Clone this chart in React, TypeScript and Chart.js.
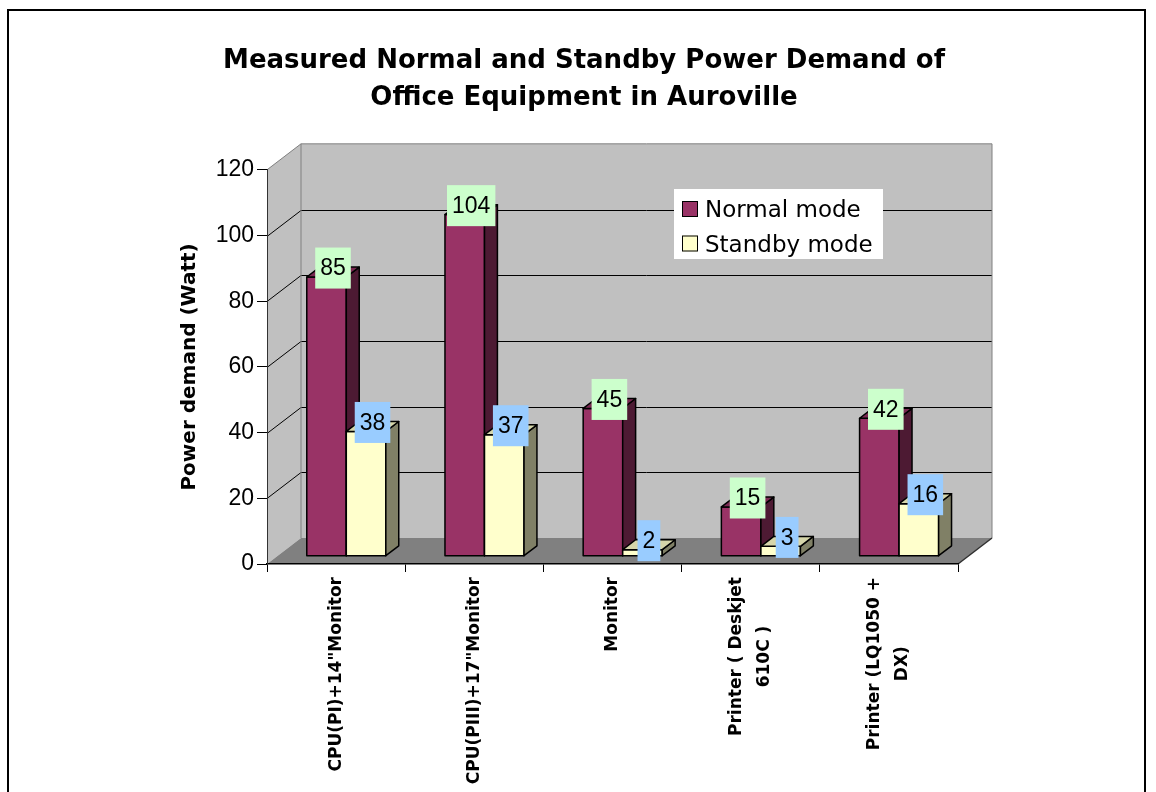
import React, { useEffect, useRef } from "react";
import { Chart, registerables } from "chart.js";

Chart.register(...registerables);

// ---- data ----
const categories: string[][] = [
  ['CPU(PI)+14"Monitor'],
  ['CPU(PIII)+17"Monitor'],
  ["Monitor"],
  ["Printer ( Deskjet", "610C )"],
  ["Printer (LQ1050 +", "DX)"],
];
const normalMode = [85, 104, 45, 15, 42];
const standbyMode = [38, 37, 2, 3, 16];
const seriesNames = ["Normal mode", "Standby mode"];
const yMin = 0;
const yMax = 120;
const yStep = 20;
const titleLines = ["Measured Normal and Standby Power Demand of", "Office Equipment in Auroville"];
const yAxisTitle = "Power demand (Watt)";

// ---- styles ----
const FRONT = ["#993366", "#ffffcc"];
const SIDE = ["#4d1a33", "#808066"];
const TOP = ["#7a2952", "#d6d6aa"];
const LABEL_BG = ["#ccffcc", "#99ccff"];
const DX = 34; // depth offset of the walls
const DY = -26;
const F0 = 0.3; // depth of bar front face
const FD = 0.38; // bar depth

function poly(ctx: CanvasRenderingContext2D, pts: number[][]) {
  ctx.beginPath();
  ctx.moveTo(pts[0][0], pts[0][1]);
  for (let i = 1; i < pts.length; i++) ctx.lineTo(pts[i][0], pts[i][1]);
  ctx.closePath();
}

const bars3d = {
  id: "bars3d",
  beforeDraw(chart: any) {
    const { ctx, chartArea: a } = chart;
    const y = chart.scales.y;
    const L = a.left, R = a.right, T = a.top, B = a.bottom;
    ctx.save();
    // outer frame
    ctx.strokeStyle = "#000";
    ctx.lineWidth = 2;
    ctx.beginPath();
    ctx.moveTo(8, 900);
    ctx.lineTo(8, 10);
    ctx.lineTo(1145, 10);
    ctx.lineTo(1145, 900);
    ctx.stroke();
    // walls
    ctx.fillStyle = "#c0c0c0";
    poly(ctx, [[L, T], [L + DX, T + DY], [L + DX, B + DY], [L, B]]);
    ctx.fill();
    ctx.fillRect(L + DX, T + DY, R - L, B - T);
    // floor
    ctx.fillStyle = "#808080";
    poly(ctx, [[L, B], [R, B], [R + DX, B + DY], [L + DX, B + DY]]);
    ctx.fill();
    // gridlines
    ctx.strokeStyle = "#000";
    ctx.lineWidth = 1;
    for (const t of y.ticks) {
      if (t.value <= yMin || t.value >= yMax) continue;
      const py = Math.round(y.getPixelForValue(t.value)) + 0.5;
      ctx.beginPath();
      ctx.moveTo(L, py);
      ctx.lineTo(L + DX, py + DY);
      ctx.lineTo(R + DX, py + DY);
      ctx.stroke();
    }
    // wall edges
    ctx.strokeStyle = "#808080";
    ctx.beginPath();
    ctx.moveTo(L, T);
    ctx.lineTo(L + DX, T + DY);
    ctx.lineTo(R + DX, T + DY);
    ctx.lineTo(R + DX, B + DY);
    ctx.moveTo(L + DX, T + DY);
    ctx.lineTo(L + DX, B + DY);
    ctx.stroke();
    ctx.strokeStyle = "#303030";
    ctx.lineWidth = 1.5;
    ctx.beginPath();
    ctx.moveTo(R, B);
    ctx.lineTo(R + DX, B + DY);
    ctx.stroke();
    ctx.restore();
  },
  beforeDatasetsDraw(chart: any) {
    chart.ctx.save();
    chart.ctx.translate(DX * F0, DY * F0);
  },
  afterDatasetsDraw(chart: any) {
    const { ctx } = chart;
    const metas = chart.data.datasets.map((_: any, i: number) => chart.getDatasetMeta(i));
    const n = chart.data.labels.length;
    const ddx = DX * FD, ddy = DY * FD;
    const boxes: any[] = [];
    for (let i = 0; i < n; i++) {
      for (let d = 0; d < metas.length; d++) {
        const el = metas[d].data[i];
        if (!el) continue;
        const { x, y, base, width } = el.getProps(["x", "y", "base", "width"], true);
        const l = x - width / 2, r = x + width / 2;
        const t = Math.min(y, base), b = Math.max(y, base);
        ctx.lineWidth = 1.5;
        ctx.strokeStyle = "#000";
        ctx.lineJoin = "round";
        ctx.fillStyle = FRONT[d];
        ctx.fillRect(l, t, r - l, b - t);
        ctx.strokeRect(l, t, r - l, b - t);
        ctx.fillStyle = SIDE[d];
        poly(ctx, [[r, t], [r + ddx, t + ddy], [r + ddx, b + ddy], [r, b]]);
        ctx.fill();
        ctx.stroke();
        ctx.fillStyle = TOP[d];
        poly(ctx, [[l, t], [l + ddx, t + ddy], [r + ddx, t + ddy], [r, t]]);
        ctx.fill();
        ctx.stroke();
        boxes.push({
          d,
          text: String(chart.data.datasets[d].data[i]),
          cx: x + DX * F0 + ddx / 2,
          cy: t + DY * F0 + ddy / 2 - 4,
        });
      }
    }
    ctx.restore();
    // value labels
    ctx.save();
    ctx.font = "23px 'Liberation Sans', Arial, sans-serif";
    ctx.textAlign = "center";
    ctx.textBaseline = "middle";
    for (const bx of boxes) {
      const w = ctx.measureText(bx.text).width + 10;
      const h = 41;
      ctx.fillStyle = LABEL_BG[bx.d];
      ctx.fillRect(bx.cx - w / 2, bx.cy - h / 2, w, h);
      ctx.fillStyle = "#000";
      ctx.fillText(bx.text, bx.cx, bx.cy + 1);
    }
    ctx.restore();
  },
  afterDraw(chart: any) {
    const { ctx } = chart;
    const xs = chart.scales.x;
    ctx.save();
    // category labels (rotated)
    ctx.font = "bold 17px 'DejaVu Sans', sans-serif";
    ctx.fillStyle = "#000";
    ctx.textAlign = "center";
    ctx.textBaseline = "middle";
    const lh = 28;
    const topY = 577;
    (chart.data.labels as string[][]).forEach((lines, i) => {
      const cx = xs.getPixelForValue(i);
      const W = Math.max(...lines.map((s) => ctx.measureText(s).width));
      lines.forEach((s, j) => {
        const lx = cx + (j - (lines.length - 1) / 2) * lh;
        ctx.save();
        ctx.translate(lx, topY + W / 2);
        ctx.rotate(-Math.PI / 2);
        ctx.fillText(s, 0, 0);
        ctx.restore();
      });
    });
    // legend
    ctx.fillStyle = "#fff";
    ctx.fillRect(674, 189, 209, 70);
    ctx.font = "23px 'DejaVu Sans', sans-serif";
    ctx.textAlign = "left";
    ctx.textBaseline = "alphabetic";
    const rows = [209, 243.5];
    seriesNames.forEach((name, d) => {
      const cy = rows[d];
      ctx.fillStyle = FRONT[d];
      ctx.fillRect(682, cy - 8, 16, 16);
      ctx.strokeStyle = "#000";
      ctx.lineWidth = 1;
      ctx.strokeRect(682.5, cy - 7.5, 15, 15);
      ctx.fillStyle = "#000";
      ctx.fillText(name, 705, cy + 8);
    });
    ctx.restore();
  },
};

export default function App() {
  const ref = useRef<HTMLCanvasElement | null>(null);
  useEffect(() => {
    document.body.style.margin = "0";
    document.body.style.overflow = "hidden";
    const canvas = ref.current;
    if (!canvas) return;
    const chart = new Chart(canvas, {
      type: "bar",
      data: {
        labels: categories as any,
        datasets: [
          { label: seriesNames[0], data: normalMode, backgroundColor: FRONT[0], borderWidth: 0, yAxisID: "y", xAxisID: "x" },
          { label: seriesNames[1], data: standbyMode, backgroundColor: FRONT[1], borderWidth: 0, yAxisID: "y", xAxisID: "x" },
        ],
      },
      options: {
        animation: false,
        responsive: true,
        maintainAspectRatio: false,
        events: [],
        datasets: { bar: { categoryPercentage: 0.572, barPercentage: 1 } },
        layout: { padding: { left: 12, right: 0, top: 0, bottom: 0 } },
        plugins: {
          legend: { display: false },
          tooltip: { enabled: false },
          title: {
            display: true,
            text: titleLines,
            color: "#000",
            font: { family: "'DejaVu Sans', sans-serif", weight: "bold", size: 26, lineHeight: 1.42 },
            padding: { top: 43, bottom: 53 },
          },
        },
        scales: {
          x: {
            type: "category",
            offset: true,
            grid: { display: true, drawOnChartArea: false, drawTicks: true, tickLength: 8, color: "#000", offset: true },
            border: { display: true, color: "#000", width: 1.5 },
            ticks: { display: false },
            afterFit: (s: any) => {
              s.height = 228;
            },
          },
          y: {
            type: "linear",
            position: "left",
            min: yMin,
            max: yMax,
            ticks: { stepSize: yStep, color: "#000", padding: 3, font: { family: "'Liberation Sans', Arial, sans-serif", size: 23 } },
            grid: { display: true, drawOnChartArea: false, drawTicks: true, tickLength: 10, color: "#000" },
            border: { display: true, color: "#333", width: 1 },
            title: {
              display: true,
              text: yAxisTitle,
              color: "#000",
              font: { family: "'DejaVu Sans', sans-serif", weight: "bold", size: 20, lineHeight: 1.2 },
              padding: { top: 166, bottom: 0 },
            },
            afterFit: (s: any) => {
              s.width = 255;
            },
          },
          yR: {
            type: "linear",
            position: "right",
            display: true,
            grid: { display: false },
            ticks: { display: false },
            border: { display: false },
            afterFit: (s: any) => {
              s.width = 198;
            },
          },
        },
      } as any,
      plugins: [bars3d],
    });
    return () => chart.destroy();
  }, []);
  return (
    <div style={{ position: "fixed", left: 0, top: 0, width: 1156, height: 792, background: "#fff" }}>
      <canvas ref={ref} />
    </div>
  );
}
